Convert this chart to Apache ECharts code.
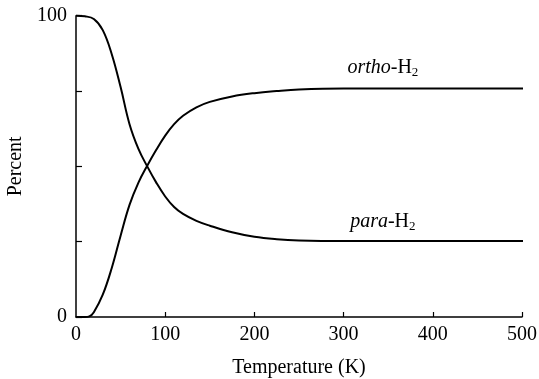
<!DOCTYPE html>
<html><head><meta charset="utf-8">
<script src="https://cdn.jsdelivr.net/npm/echarts@6/dist/echarts.min.js"></script>
<style>html,body{margin:0;padding:0;background:#fff}#c{width:539px;height:379px}</style>
</head><body><div id="c"></div>
<script>
const paraT = [0, 10, 20, 30, 40, 50, 60, 70, 80, 90, 100, 110, 120, 135, 150, 175, 200, 225, 250, 300, 400, 509];
const paraP = [100, 99.8, 98.9, 95.2, 87.3, 76.3, 64.0, 55.8, 49.9, 44.6, 40.0, 36.5, 34.2, 31.9, 30.3, 28.1, 26.6, 25.8, 25.4, 25.2, 25.2, 25.2];
const orthoT = [0, 10, 15, 20, 30, 40, 50, 60, 70, 80, 90, 100, 110, 120, 135, 150, 175, 200, 225, 250, 300, 400, 509];
const orthoP = [0, 0, 0.2, 1.6, 7.4, 16.2, 27.0, 37.2, 44.6, 50.3, 55.5, 60.2, 64.0, 66.8, 69.6, 71.4, 73.2, 74.3, 75.0, 75.5, 75.8, 75.8, 75.8];
const xTicks = [0, 100, 200, 300, 400, 500];
const yLabelled = [0, 100];
const orthoLabelAt = [344, 82.6];
const paraLabelAt = [344, 31.5];

const font = '"Liberation Serif", "Times New Roman", serif';
const chart = echarts.init(document.getElementById('c'));
const zip = (a, b) => a.map((v, i) => [v, b[i]]);
const labelPoint = (coord, name) => ({
  coord: coord, symbol: 'circle', symbolSize: 1, itemStyle: { color: 'rgba(0,0,0,0)' },
  label: { show: true, position: 'inside', formatter: '{i|' + name + '}{r|-H}{s|2}',
    rich: { i: { fontFamily: font, fontStyle: 'italic', fontSize: 20, color: '#000' },
            r: { fontFamily: font, fontSize: 20, color: '#000' },
            s: { fontFamily: font, fontSize: 13, color: '#000', verticalAlign: 'bottom', padding: [9, 0, 0, 0] } } }
});
chart.setOption({
  animation: false,
  grid: { left: 76, right: 17, top: 15.7, bottom: 62, containLabel: false, outerBoundsMode: 'none' },
  xAxis: {
    type: 'value', min: 0, max: 500, interval: 100,
    name: 'Temperature (K)', nameLocation: 'middle', nameGap: 41,
    nameTextStyle: { fontFamily: font, fontSize: 20, color: '#000' },
    axisLine: { lineStyle: { color: '#000', width: 1.5 } },
    axisTick: { inside: true, length: 5, lineStyle: { color: '#000', width: 1.2 },
      customValues: xTicks.slice(1) },
    axisLabel: { fontFamily: font, fontSize: 20, color: '#000', margin: 8, customValues: xTicks },
    splitLine: { show: false }
  },
  yAxis: {
    type: 'value', min: 0, max: 100, interval: 25,
    name: 'Percent', nameLocation: 'middle', nameGap: 49,
    nameTextStyle: { fontFamily: font, fontSize: 20, color: '#000' },
    axisLine: { show: true, lineStyle: { color: '#000', width: 1.5 } },
    axisTick: { show: true, inside: true, length: 6, lineStyle: { color: '#000', width: 1.2 } },
    axisLabel: { fontFamily: font, fontSize: 20, color: '#000', margin: 9,
      formatter: v => yLabelled.includes(v) ? String(v) : '' },
    splitLine: { show: false }
  },
  series: [
    { type: 'line', data: zip(paraT, paraP), smooth: 0.4, showSymbol: false, clip: false,
      lineStyle: { color: '#000', width: 2 },
      markPoint: { data: [labelPoint(paraLabelAt, 'para')] } },
    { type: 'line', data: zip(orthoT, orthoP), smooth: 0.4, showSymbol: false, clip: false,
      lineStyle: { color: '#000', width: 2 },
      markPoint: { data: [labelPoint(orthoLabelAt, 'ortho')] } }
  ]
});
</script></body></html>
